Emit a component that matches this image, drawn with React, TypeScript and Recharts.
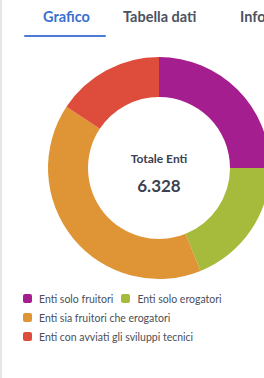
import React from "react";
import { PieChart, Pie, Cell, Label } from "recharts";

const categories = [
  "Enti solo fruitori",
  "Enti solo erogatori",
  "Enti sia fruitori che erogatori",
  "Enti con avviati gli sviluppi tecnici",
];
const values = [1582, 1196, 2557, 993];
const colors = ["#A51E8F", "#A6BB3B", "#DF9535", "#DE4C3B"];
const tabs = ["Grafico", "Tabella dati", "Info"];
const totalLabel = "Totale Enti";
const totalValue = "6.328";

const data = categories.map((name, i) => ({ name, value: values[i] }));

const FONT = "Lato, 'Open Sans', sans-serif";

export default function App() {
  return (
    <div style={{ position: "absolute", left: 0, top: 0, width: 264, height: 378, overflow: "hidden", background: "#fff", fontFamily: FONT }}>
      <div style={{ position: "absolute", left: 0, top: 0, width: 2, height: 378, background: "#e6e6e6" }} />
      <div style={{ position: "absolute", left: 0, top: 0 }}>
        <PieChart width={264} height={336} margin={{ top: 0, right: 0, bottom: 0, left: 0 }}>
          <Pie
            data={data}
            dataKey="value"
            nameKey="name"
            cx={159}
            cy={168}
            innerRadius={71}
            outerRadius={111}
            startAngle={90}
            endAngle={-270}
            stroke="none"
            isAnimationActive={false}
          >
            {data.map((d, i) => (
              <Cell key={d.name} fill={colors[i]} />
            ))}
            <Label
              value={totalLabel}
              position="center"
              dx={27}
              dy={-9}
              style={{ fontFamily: FONT, fontSize: 12, fontWeight: 700, fill: "#3b4150" }}
            />
            <Label
              value={totalValue}
              position="center"
              dx={27}
              dy={18}
              style={{ fontFamily: FONT, fontSize: 17, fontWeight: 700, fill: "#3b4150" }}
            />
          </Pie>
        </PieChart>
      </div>
      <div style={{ position: "absolute", left: 43, top: 8, fontSize: 14.5, fontWeight: 700, color: "#3a70cf" }}>{tabs[0]}</div>
      <div style={{ position: "absolute", left: 123, top: 8, fontSize: 14.5, fontWeight: 700, color: "#4c5260" }}>{tabs[1]}</div>
      <div style={{ position: "absolute", left: 240, top: 8, fontSize: 14.5, fontWeight: 700, color: "#4c5260", whiteSpace: "nowrap" }}>{tabs[2]}</div>
      <div style={{ position: "absolute", left: 24, top: 35, width: 82, height: 2, borderRadius: 1, background: "#4a7ad6" }} />
      <div style={{ position: "absolute", left: 23, top: 291, display: "flex", flexWrap: "wrap", width: 232, fontFamily: FONT, fontSize: 10.5, color: "#4a4f5a", rowGap: 4 }}>
        {categories.map((c, i) => (
          <div key={c} style={{ display: "flex", alignItems: "center", marginRight: 8, height: 15 }}>
            <span style={{ display: "inline-block", width: 9, height: 9, borderRadius: 2, background: colors[i], marginRight: 7 }} />
            <span>{c}</span>
          </div>
        ))}
      </div>
    </div>
  );
}
